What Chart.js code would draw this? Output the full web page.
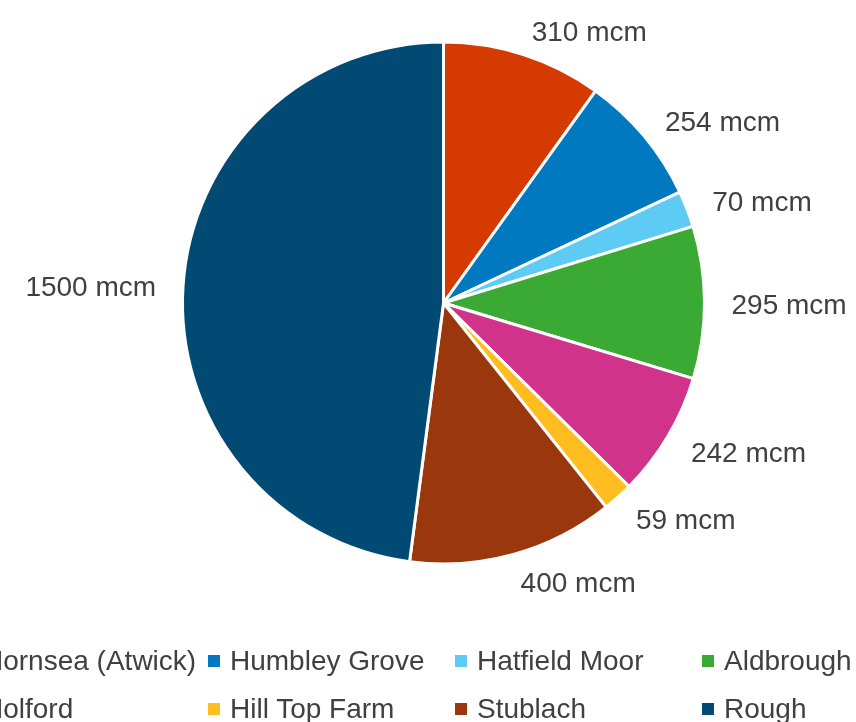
<!DOCTYPE html>
<html>
<head>
<meta charset="utf-8">
<title>Gas storage capacity</title>
<script src="https://cdn.jsdelivr.net/npm/chart.js@4.4.1/dist/chart.umd.min.js"></script>
<style>
  html, body { margin: 0; padding: 0; background: #fff; }
  #wrap { position: relative; width: 856px; height: 722px; overflow: hidden; }
  #chart { position: absolute; left: 0; top: 0; }
  .legend-item {
    position: absolute; height: 40px; display: flex; align-items: center;
    font: 28px "Liberation Sans", Arial, sans-serif; color: #404040; white-space: nowrap;
  }
  .legend-box { width: 12px; height: 12px; margin-right: 10px; flex: none; }
</style>
</head>
<body>
<div id="wrap">
  <canvas id="chart" width="856" height="722"></canvas>
  <div id="legend"></div>
</div>
<script>
// Storage sites and their capacity (mcm)
const sites = ['Hornsea (Atwick)', 'Humbley Grove', 'Hatfield Moor', 'Aldbrough',
               'Holford', 'Hill Top Farm', 'Stublach', 'Rough'];
const storageValues = [310, 254, 70, 295, 242, 59, 400, 1500];
const siteColors = ['#d53a00', '#0079c1', '#5ecbf5', '#3aaa35',
                    '#d2338a', '#ffbd20', '#9a370c', '#004a74'];
const unitLabel = 'mcm';

// Labels drawn outside each slice
const outsideLabels = {
    id: 'outsideLabels',
    afterDatasetsDraw(chart) {
        const ctx = chart.ctx;
        const meta = chart.getDatasetMeta(0);
        ctx.save();
        ctx.font = '28px "Liberation Sans", Arial, sans-serif';
        ctx.fillStyle = '#404040';
        ctx.textBaseline = 'middle';
        meta.data.forEach((arc, i) => {
            const mid = (arc.startAngle + arc.endAngle) / 2;
            const r = arc.outerRadius + 27;
            const x = arc.x + Math.cos(mid) * r;
            const y = arc.y + Math.sin(mid) * r + 4;
            ctx.textAlign = Math.cos(mid) >= 0 ? 'left' : 'right';
            ctx.fillText(storageValues[i] + ' ' + unitLabel, x, y);
        });
        ctx.restore();
    }
};

const ctx = document.getElementById('chart').getContext('2d');
const storageChart = new Chart(ctx, {
    type: 'pie',
    data: {
        labels: sites,
        datasets: [{
            data: storageValues,
            backgroundColor: siteColors,
            borderColor: '#ffffff',
            borderWidth: 3,
            hoverOffset: 0
        }]
    },
    options: {
        responsive: false,
        animation: false,
        radius: 261,
        layout: { padding: { left: 31, right: 0, top: 0, bottom: 116 } },
        plugins: {
            legend: { display: false },
            tooltip: { enabled: false }
        }
    },
    plugins: [outsideLabels]
});

// Legend in a 4 column grid, cut off at the left like the original
const legend = document.getElementById('legend');
sites.forEach((name, i) => {
    const col = i % 4;
    const row = Math.floor(i / 4);
    const item = document.createElement('div');
    item.className = 'legend-item';
    item.style.left = (-39 + col * 247) + 'px';
    item.style.top = (641 + row * 48) + 'px';
    const box = document.createElement('span');
    box.className = 'legend-box';
    box.style.background = siteColors[i];
    item.appendChild(box);
    item.appendChild(document.createTextNode(name));
    legend.appendChild(item);
});
</script>
</body>
</html>
